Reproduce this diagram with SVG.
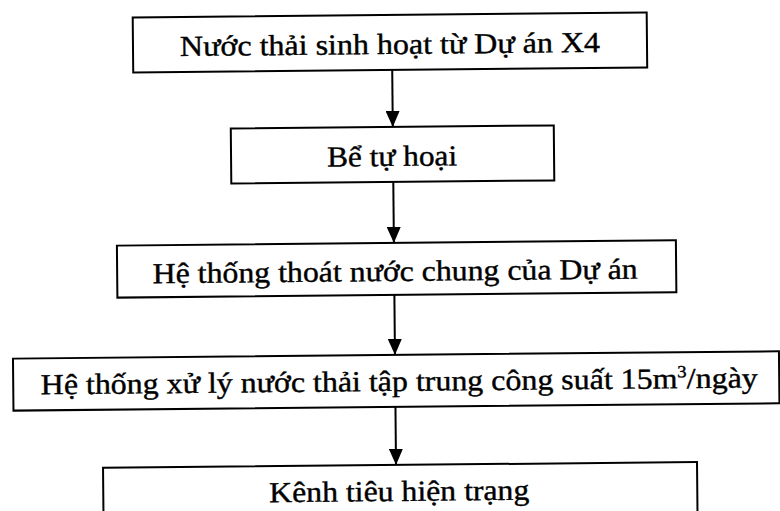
<svg xmlns="http://www.w3.org/2000/svg" width="780" height="511" viewBox="0 0 780 511">
  <defs>
    <marker id="arrow" viewBox="0 0 16 14" refX="16" refY="7" markerWidth="16" markerHeight="14" markerUnits="userSpaceOnUse" orient="auto">
      <path d="M0,0 L16,7 L0,14 Z" fill="#000"/>
    </marker>
    <style>
      .box { fill: #fff; stroke: #000; stroke-width: 2; }
      .label { font-family: "Liberation Serif", "Times New Roman", serif; font-size: 29px; fill: #000; stroke: #000; stroke-width: 0.4; text-anchor: middle; }
      .edge { stroke: #000; stroke-width: 2; fill: none; }
    </style>
  </defs>
  <rect width="780" height="511" fill="#fff"/>
  <!-- whole chart is drawn slightly turned, as on the printed page -->
  <g transform="rotate(-0.55 390 255)">
    <g id="connectors">
      <line class="edge" x1="394" y1="70" x2="394" y2="127" marker-end="url(#arrow)"/>
      <line class="edge" x1="394" y1="182" x2="394" y2="243" marker-end="url(#arrow)"/>
      <line class="edge" x1="394" y1="295" x2="394" y2="355" marker-end="url(#arrow)"/>
      <line class="edge" x1="394" y1="407" x2="394" y2="465" marker-end="url(#arrow)"/>
    </g>
    <g id="n1">
      <rect class="box" x="135" y="15" width="514" height="55"/>
      <text class="label" x="392" y="54" textLength="420" lengthAdjust="spacingAndGlyphs">Nước thải sinh hoạt từ Dự án X4</text>
    </g>
    <g id="n2">
      <rect class="box" x="232" y="127" width="323" height="55"/>
      <text class="label" x="393" y="166" textLength="130" lengthAdjust="spacingAndGlyphs">Bể tự hoại</text>
    </g>
    <g id="n3">
      <rect class="box" x="117" y="243" width="559" height="52"/>
      <text class="label" x="395" y="281" textLength="485" lengthAdjust="spacingAndGlyphs">Hệ thống thoát nước chung của Dự án</text>
    </g>
    <g id="n4">
      <rect class="box" x="12" y="355" width="766" height="52"/>
      <text class="label" x="398" y="391" textLength="717" lengthAdjust="spacingAndGlyphs">Hệ thống xử lý nước thải tập trung công suất 15m<tspan font-size="17" dy="-11">3</tspan><tspan dy="11">/ngày</tspan></text>
    </g>
    <g id="n5">
      <rect class="box" x="101" y="465" width="594" height="60"/>
      <text class="label" x="397" y="501" textLength="260" lengthAdjust="spacingAndGlyphs">Kênh tiêu hiện trạng</text>
    </g>
  </g>
</svg>
